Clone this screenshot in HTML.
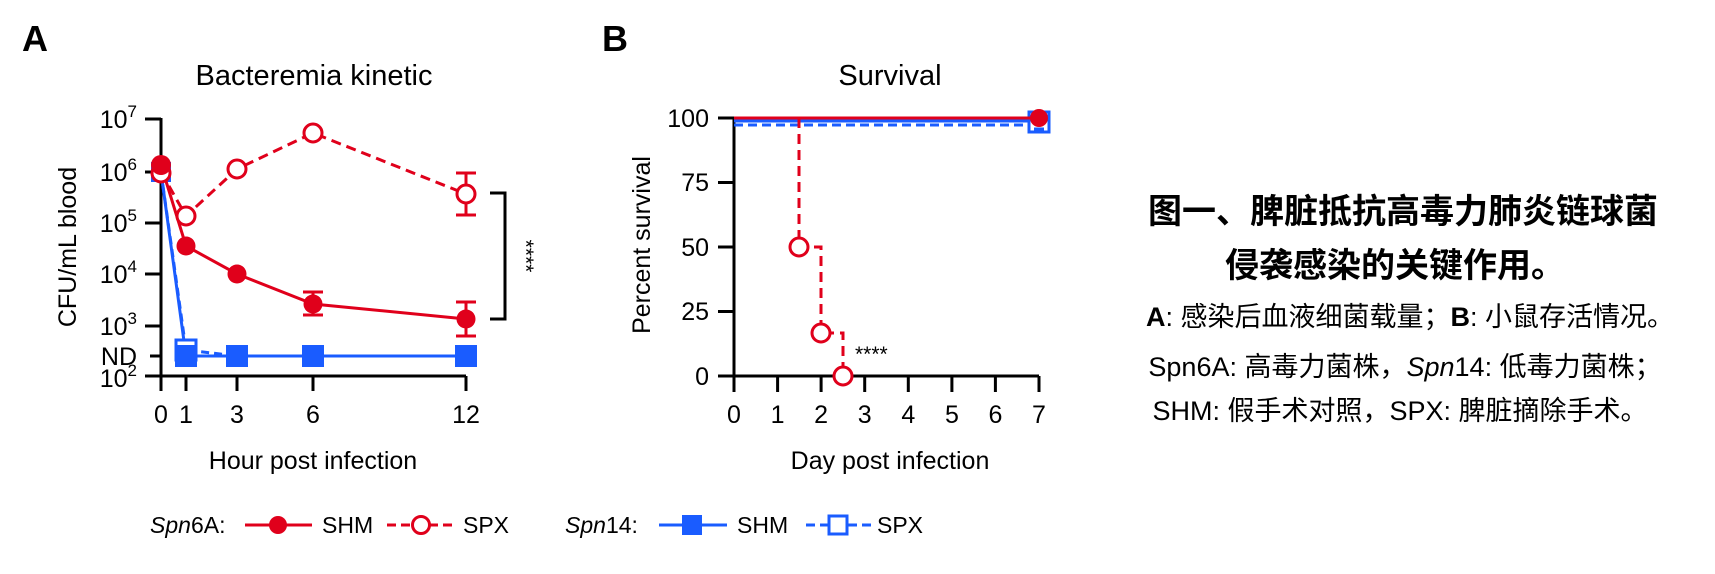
<!DOCTYPE html>
<html><head><meta charset="utf-8"><style>
html,body{margin:0;padding:0;background:#fff;}
svg{display:block;font-family:"Liberation Sans","Noto Sans CJK SC",sans-serif;}
</style></head><body>
<svg width="1715" height="574" viewBox="0 0 1715 574" xmlns="http://www.w3.org/2000/svg">
<g fill="#000">
<text x="22" y="51" font-size="36" font-weight="bold">A</text>
<text x="602" y="51" font-size="36" font-weight="bold">B</text>
<text x="314" y="85" font-size="29" text-anchor="middle">Bacteremia kinetic</text>
<text x="890" y="85" font-size="29" text-anchor="middle">Survival</text>
</g>
<!-- Panel A axes -->
<g stroke="#000" stroke-width="3" fill="none">
<line x1="161" y1="118" x2="161" y2="377"/>
<line x1="159.5" y1="376" x2="466" y2="376"/>
<line x1="145" y1="119" x2="161" y2="119"/>
<line x1="145" y1="172" x2="161" y2="172"/>
<line x1="145" y1="223" x2="161" y2="223"/>
<line x1="145" y1="274" x2="161" y2="274"/>
<line x1="145" y1="326" x2="161" y2="326"/>
<line x1="145" y1="376" x2="161" y2="376"/>
<line x1="150" y1="356" x2="161" y2="356"/>
<line x1="161" y1="376" x2="161" y2="391"/>
<line x1="186" y1="376" x2="186" y2="391"/>
<line x1="237" y1="376" x2="237" y2="391"/>
<line x1="313" y1="376" x2="313" y2="391"/>
<line x1="466" y1="376" x2="466" y2="391"/>
<polyline points="490,193 505,193 505,319 490,319"/>
</g>
<g font-size="25" fill="#000" text-anchor="end">
<text x="137" y="128">10<tspan dy="-11" font-size="17">7</tspan></text>
<text x="137" y="181">10<tspan dy="-11" font-size="17">6</tspan></text>
<text x="137" y="232">10<tspan dy="-11" font-size="17">5</tspan></text>
<text x="137" y="283">10<tspan dy="-11" font-size="17">4</tspan></text>
<text x="137" y="335">10<tspan dy="-11" font-size="17">3</tspan></text>
<text x="137" y="365">ND</text>
<text x="137" y="387">10<tspan dy="-11" font-size="17">2</tspan></text>
</g>
<g font-size="25" fill="#000" text-anchor="middle">
<text x="161" y="423">0</text><text x="186" y="423">1</text><text x="237" y="423">3</text><text x="313" y="423">6</text><text x="466" y="423">12</text>
<text x="313" y="469" font-size="25">Hour post infection</text>
<text transform="translate(76,247) rotate(-90)" font-size="25">CFU/mL blood</text>
<text transform="translate(519,256) rotate(90)" font-size="21">****</text>
</g>
<!-- Panel A series -->
<g stroke="#1a5cff" stroke-width="3" fill="none">
<polyline points="161,172 186,350 237,356" stroke-dasharray="8,5"/>
<polyline points="161,172 186,356 466,356"/>
</g>
<g fill="#1a5cff">
<rect x="151" y="162" width="20" height="20"/>
<rect x="176" y="340" width="20" height="20" fill="#fff" stroke="#1a5cff" stroke-width="3"/>
<rect x="175" y="345" width="22" height="22"/>
<rect x="226" y="345" width="22" height="22"/>
<rect x="302" y="345" width="22" height="22"/>
<rect x="455" y="345" width="22" height="22"/>
</g>
<g stroke="#e0001b" stroke-width="3" fill="none">
<polyline points="161,172 186,216 237,169 313,133 466,194" stroke-dasharray="10,6"/>
<polyline points="161,165 186,246 237,274 313,304 466,319"/>
<line x1="466" y1="173" x2="466" y2="215"/><line x1="456" y1="173" x2="476" y2="173"/><line x1="456" y1="215" x2="476" y2="215"/>
<line x1="313" y1="292" x2="313" y2="315"/><line x1="303" y1="292" x2="323" y2="292"/><line x1="303" y1="315" x2="323" y2="315"/>
<line x1="466" y1="302" x2="466" y2="336"/><line x1="456" y1="302" x2="476" y2="302"/><line x1="456" y1="336" x2="476" y2="336"/>
</g>
<g stroke="#e0001b" stroke-width="3" fill="#fff">
<circle cx="161" cy="173" r="9"/><circle cx="186" cy="216" r="9"/><circle cx="237" cy="169" r="9"/><circle cx="313" cy="133" r="9"/><circle cx="466" cy="194" r="9"/>
</g>
<g fill="#e0001b">
<circle cx="161" cy="165" r="10"/><circle cx="186" cy="246" r="9.5"/><circle cx="237" cy="274" r="9.5"/><circle cx="313" cy="304" r="9.5"/><circle cx="466" cy="319" r="9.5"/>
</g>
<!-- Panel B axes -->
<g stroke="#000" stroke-width="3" fill="none">
<line x1="734" y1="117" x2="734" y2="377"/>
<line x1="732.5" y1="376" x2="1039" y2="376"/>
<line x1="718" y1="118" x2="734" y2="118"/>
<line x1="718" y1="182.5" x2="734" y2="182.5"/>
<line x1="718" y1="247" x2="734" y2="247"/>
<line x1="718" y1="311.5" x2="734" y2="311.5"/>
<line x1="718" y1="376" x2="734" y2="376"/>
<line x1="734" y1="376" x2="734" y2="392"/><line x1="777.6" y1="376" x2="777.6" y2="392"/><line x1="821.1" y1="376" x2="821.1" y2="392"/><line x1="864.7" y1="376" x2="864.7" y2="392"/><line x1="908.3" y1="376" x2="908.3" y2="392"/><line x1="951.9" y1="376" x2="951.9" y2="392"/><line x1="995.4" y1="376" x2="995.4" y2="392"/><line x1="1039" y1="376" x2="1039" y2="392"/>
</g>
<g font-size="25" fill="#000" text-anchor="end">
<text x="709" y="127">100</text><text x="709" y="191">75</text><text x="709" y="256">50</text><text x="709" y="320">25</text><text x="709" y="385">0</text>
</g>
<g font-size="25" fill="#000" text-anchor="middle">
<text x="734" y="423">0</text><text x="777.6" y="423">1</text><text x="821.1" y="423">2</text><text x="864.7" y="423">3</text><text x="908.3" y="423">4</text><text x="951.9" y="423">5</text><text x="995.4" y="423">6</text><text x="1039" y="423">7</text>
<text x="890" y="469" font-size="25">Day post infection</text>
<text transform="translate(650,245) rotate(-90)" font-size="25">Percent survival</text>
<text x="855" y="361" font-size="21" text-anchor="start">****</text>
</g>
<g stroke="#1a5cff" stroke-width="3" fill="none">
<line x1="734" y1="125" x2="1039" y2="125" stroke-dasharray="9,5"/>
<line x1="734" y1="121" x2="1039" y2="121"/>
<rect x="1029" y="112" width="20" height="20" fill="#fff"/>
<line x1="1034" y1="129" x2="1044" y2="129"/>
</g>
<g stroke="#e0001b" stroke-width="3" fill="none">
<line x1="734" y1="118" x2="1039" y2="118"/>
<polyline points="799,118 799,247 821,247 821,333 843,333 843,376" stroke-dasharray="10,6"/>
</g>
<g stroke="#e0001b" stroke-width="3" fill="#fff">
<circle cx="799" cy="247" r="9"/><circle cx="821" cy="333" r="9"/><circle cx="843" cy="376" r="9"/>
</g>
<circle cx="1039" cy="118" r="9" fill="#e0001b"/>
<!-- Legend -->
<g font-size="23" fill="#000">
<text x="150" y="533" font-style="italic">Spn<tspan font-style="normal">6A:</tspan></text>
<text x="322" y="533">SHM</text>
<text x="463" y="533">SPX</text>
<text x="565" y="533" font-style="italic">Spn<tspan font-style="normal">14:</tspan></text>
<text x="737" y="533">SHM</text>
<text x="877" y="533">SPX</text>
</g>
<g stroke="#e0001b" stroke-width="3" fill="none">
<line x1="245" y1="525" x2="312" y2="525"/>
<line x1="387" y1="525" x2="455" y2="525" stroke-dasharray="9,5"/>
</g>
<circle cx="278" cy="525" r="9" fill="#e0001b"/>
<circle cx="421" cy="525" r="8.5" fill="#fff" stroke="#e0001b" stroke-width="3"/>
<g stroke="#1a5cff" stroke-width="3" fill="none">
<line x1="659" y1="525" x2="727" y2="525"/>
<line x1="806" y1="525" x2="872" y2="525" stroke-dasharray="9,5"/>
</g>
<rect x="682" y="515" width="20" height="20" fill="#1a5cff"/>
<rect x="829" y="516" width="18" height="18" fill="#fff" stroke="#1a5cff" stroke-width="3"/>
<!-- Right text -->
<g fill="#000" text-anchor="middle">
<text x="1403" y="223" font-size="34" font-weight="bold">图一、脾脏抵抗高毒力肺炎链球菌</text>
<text x="1395" y="277" font-size="34" font-weight="bold">侵袭感染的关键作用。</text>
<text x="1410" y="326" font-size="27"><tspan font-weight="bold">A</tspan>: 感染后血液细菌载量；<tspan font-weight="bold">B</tspan>: 小鼠存活情况。</text>
<text x="1405" y="376" font-size="27">Spn6A: 高毒力菌株，<tspan font-style="italic">Spn</tspan>14: 低毒力菌株；</text>
<text x="1400" y="420" font-size="27">SHM: 假手术对照，SPX: 脾脏摘除手术。</text>
</g>
</svg>
</body></html>
